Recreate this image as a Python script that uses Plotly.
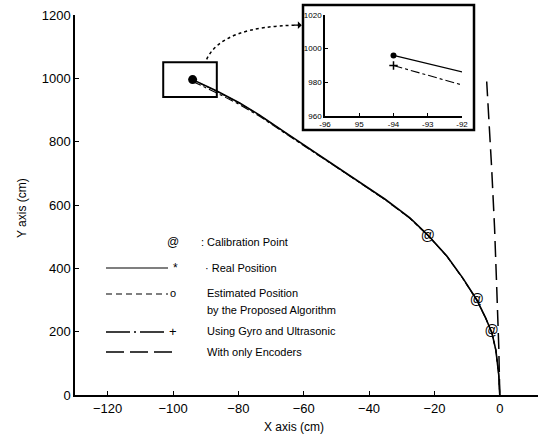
import plotly.graph_objects as go

# ---------------- data ----------------
real_x = [-94, -86.6, -79.6, -73.5, -65.8, -58.1, -50.5, -42.9, -35.2, -27.5, -22, -16.2, -11.3, -7, -4.3, -2.4, -1.2, -0.3, 0]
real_y = [996, 960, 922, 884, 830, 777, 726, 673, 619, 559, 505, 439, 369, 300, 243, 196, 142, 63, 0]

est_x = [-94, -86.6, -79.6, -73.5, -65.8, -58.1, -50.5, -42.9, -35.2, -27.5, -22, -16.2, -11.3, -7, -4.3, -2.4, -1.2, -0.3, 0]
est_y = [995, 959, 921, 883, 829, 776, 725, 672, 618, 558, 504, 438, 368, 299, 242, 195, 141, 62, 0]

gyro_x = [-94, -86.6, -79.6, -73.5, -65.8, -58.1, -50.5, -42.9, -35.2, -27.5, -22, -16.2, -11.3, -7, -4.3, -2.4, -1.2, -0.3, 0]
gyro_y = [990, 954, 917, 880, 827, 775, 724, 671, 617, 558, 504, 438, 368, 299, 243, 196, 142, 63, 0]

enc_x = [0, -0.3, -0.9, -1.6, -2.5, -3.3, -4.0]
enc_y = [0, 150, 330, 530, 720, 880, 990]

calib_x = [-22, -7, -2.5]
calib_y = [500, 300, 200]

x_ticks = [-120, -100, -80, -60, -40, -20, 0]
y_ticks = [0, 200, 400, 600, 800, 1000, 1200]
inset_x_ticks = [-96, -95, -94, -93, -92]
inset_x_labels = ["-96", "95", "-94", "-93", "-92"]
inset_y_ticks = [960, 980, 1000, 1020]

legend_labels = [": Calibration Point", "· Real Position", "Estimated Position",
                 "by the Proposed Algorithm", "Using Gyro and Ultrasonic", "With only Encoders"]

FONT = "Liberation Sans, Arial, sans-serif"

# pixel helpers for the plot area (75..538 x 15..395)
def PX(px):
    return (px - 75) / 463.0

def PY(py):
    return (395 - py) / 380.0

fig = go.Figure()

# main traces
fig.add_trace(go.Scatter(x=est_x, y=est_y, mode="lines",
                         line=dict(color="black", width=1.1, dash="5px,3px"), showlegend=False))
fig.add_trace(go.Scatter(x=gyro_x, y=gyro_y, mode="lines",
                         line=dict(color="black", width=1.1, dash="dashdot"), showlegend=False))
fig.add_trace(go.Scatter(x=real_x, y=real_y, mode="lines",
                         line=dict(color="black", width=1.6), showlegend=False))
fig.add_trace(go.Scatter(x=enc_x, y=enc_y, mode="lines",
                         line=dict(color="black", width=1.5, dash="16px,7px"), showlegend=False))
fig.add_trace(go.Scatter(x=real_x[:1], y=real_y[:1], mode="markers",
                         marker=dict(color="black", size=9), showlegend=False))
fig.add_trace(go.Scatter(x=calib_x, y=calib_y, mode="text", text=["@"] * len(calib_x),
                         textfont=dict(family=FONT, size=14, color="black"), showlegend=False))

# inset traces
fig.add_trace(go.Scatter(x=real_x, y=real_y, mode="lines", xaxis="x2", yaxis="y2",
                         line=dict(color="black", width=1.2), showlegend=False))
fig.add_trace(go.Scatter(x=gyro_x, y=gyro_y, mode="lines", xaxis="x2", yaxis="y2",
                         line=dict(color="black", width=1.1, dash="dashdot"), showlegend=False))
fig.add_trace(go.Scatter(x=real_x[:1], y=real_y[:1], mode="markers", xaxis="x2", yaxis="y2",
                         marker=dict(color="black", size=6), showlegend=False))
fig.add_trace(go.Scatter(x=gyro_x[:1], y=gyro_y[:1], mode="markers", xaxis="x2", yaxis="y2",
                         marker=dict(color="black", size=6, symbol="cross-thin",
                                     line=dict(color="black", width=1.5)), showlegend=False))

shapes = []
annotations = []

# inset frame
shapes.append(dict(type="rect", xref="paper", yref="paper",
                   x0=PX(303), x1=PX(474), y0=PY(130), y1=PY(5),
                   line=dict(color="black", width=2.5), fillcolor="white", layer="below"))
# zoom rectangle in main plot
shapes.append(dict(type="rect", xref="x", yref="y", x0=-103, x1=-86.6, y0=941, y1=1051,
                   line=dict(color="black", width=2)))
# dotted connector
shapes.append(dict(type="path", xref="x", yref="y",
                   path="M -89.7,1060 Q -85,1165 -61.5,1168",
                   line=dict(color="black", width=1.5, dash="dot")))
annotations.append(dict(xref="x", yref="y", x=-60.6, y=1168, ax=-9, ay=0, text="",
                        showarrow=True, arrowhead=1, arrowsize=1, arrowwidth=1.3, arrowcolor="black"))

# legend lines
shapes.append(dict(type="line", xref="paper", yref="paper", x0=PX(106), x1=PX(168), y0=PY(268), y1=PY(268),
                   line=dict(color="black", width=1.2)))
shapes.append(dict(type="line", xref="paper", yref="paper", x0=PX(106), x1=PX(168), y0=PY(294), y1=PY(294),
                   line=dict(color="black", width=1.2, dash="6px,4px")))
shapes.append(dict(type="line", xref="paper", yref="paper", x0=PX(106), x1=PX(164), y0=PY(332), y1=PY(332),
                   line=dict(color="black", width=1.6, dash="24px,4px,2px,4px")))
shapes.append(dict(type="line", xref="paper", yref="paper", x0=PX(106), x1=PX(177), y0=PY(352), y1=PY(352),
                   line=dict(color="black", width=1.6, dash="18px,6px")))

# legend glyphs
for g, px, py, sz in [("@", 173, 242, 12), ("*", 175, 268, 12), ("o", 173, 293, 11), ("+", 173, 331, 13)]:
    annotations.append(dict(xref="paper", yref="paper", x=PX(px), y=PY(py), text=g, showarrow=False,
                            xanchor="center", yanchor="middle",
                            font=dict(family=FONT, size=sz, color="black")))
# legend texts
for t, px, py in zip(legend_labels, [199, 203, 205, 205, 205, 205], [242, 268, 293, 310, 331, 352]):
    annotations.append(dict(xref="paper", yref="paper", x=PX(px), y=PY(py), text=t, showarrow=False,
                            xanchor="left", yanchor="middle",
                            font=dict(family=FONT, size=11, color="black")))

# axis titles
annotations.append(dict(xref="paper", yref="paper", x=PX(294), y=PY(427), text="X axis (cm)",
                        showarrow=False, xanchor="center", yanchor="middle",
                        font=dict(family=FONT, size=12, color="black")))
annotations.append(dict(xref="paper", yref="paper", x=PX(22), y=PY(208), text="Y axis (cm)",
                        showarrow=False, textangle=-90, xanchor="center", yanchor="middle",
                        font=dict(family=FONT, size=12, color="black")))

axis_common = dict(showline=True, linecolor="black", showgrid=False, zeroline=False,
                   automargin=False, ticks="inside", tickcolor="black")

fig.update_layout(
    template="none",
    width=538, height=438,
    margin=dict(l=75, r=0, t=15, b=43, pad=0),
    paper_bgcolor="white", plot_bgcolor="white",
    font=dict(family=FONT, color="black"),
    showlegend=False,
    shapes=shapes, annotations=annotations,
    xaxis=dict(range=[-130, 11.7], tickvals=x_ticks, ticklen=4, tickwidth=1.2, linewidth=2,
               tickfont=dict(size=13, color="black"), domain=[0, 1], **axis_common),
    yaxis=dict(range=[0, 1200], tickvals=y_ticks, ticklen=4, tickwidth=1.2, linewidth=1.5,
               tickfont=dict(size=13, color="black"), domain=[0, 1], **axis_common),
    xaxis2=dict(range=[-96, -92], tickvals=inset_x_ticks, ticktext=inset_x_labels,
                ticklen=3, linewidth=1.5, tickfont=dict(size=8, color="black"),
                domain=[PX(325), PX(462)], anchor="y2", **axis_common),
    yaxis2=dict(range=[960, 1020], tickvals=inset_y_ticks, ticklen=3, linewidth=1.5,
                tickfont=dict(size=8, color="black"), domain=[PY(116), PY(15)], anchor="x2",
                **axis_common),
)

fig.write_html("out.html", config={"displayModeBar": False},
               post_script="document.body.style.margin='0';document.body.style.overflow='hidden';")
